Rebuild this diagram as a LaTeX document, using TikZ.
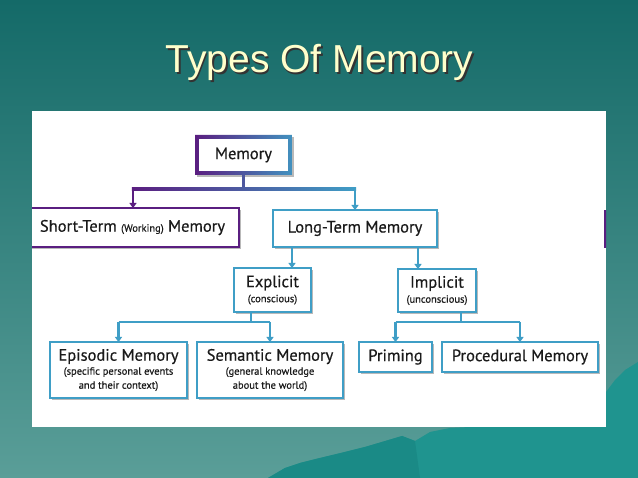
\documentclass[tikz,border=0pt]{standalone}
\usepackage{fontspec}
\setmainfont{Liberation Sans}
\newfontfamily\df[FakeBold=0.5]{PT Sans}
\usetikzlibrary{calc,shadows,arrows.meta}
\definecolor{purp}{HTML}{5A1E80}
\definecolor{blu}{HTML}{3F9EC6}
\definecolor{txt}{HTML}{1A1A1A}
\definecolor{bgtop}{HTML}{146A68}
\definecolor{bgbot}{HTML}{5A9E98}
\definecolor{mount}{HTML}{1F948F}
\definecolor{mountd}{HTML}{1A8A86}
\definecolor{titlec}{HTML}{FFFFCC}
\begin{document}
\begin{tikzpicture}[x=1pt,y=-1pt,
  box/.style={draw=blu, line width=2.2pt, fill=white, inner sep=0pt, outer sep=0pt, align=center, text=txt,
    font=\df\fontsize{16.5}{17}\selectfont,
    drop shadow={shadow xshift=1.5pt, shadow yshift=-1.8pt, fill=black!50, opacity=0.55}},
  conn/.style={blu, line width=2.4pt},
  arr/.style={conn, -{Triangle[width=7pt,length=5pt]}}]
\newcommand\subt[1]{{\fontsize{10.5}{11}\selectfont #1}}
\useasboundingbox (0,0) rectangle (638,478);
% background
\shade[top color=bgtop, bottom color=bgbot] (0,0) rectangle (638,478);
\fill[mount] (268,478) -- (285,468) -- (300,463) -- (320,458) -- (345,452) -- (365,447) -- (392,439)
  -- (402,436) -- (415,441) -- (430,432) -- (450,428) -- (606,420) -- (606,392) -- (615,380)
  -- (625,370) -- (638,362) -- (638,478) -- cycle;
\fill[mountd] (268,478) -- (285,468) -- (300,463) -- (320,458) -- (345,452) -- (365,447) -- (392,439)
  -- (402,436) -- (415,441) -- (420,478) -- cycle;
% title with its shadow
\node[anchor=base, font=\fontsize{39}{44}\selectfont] (title) at (319.5,73)
  {\rlap{\kern1.5pt\raisebox{-1.5pt}{\color{black!80}Types Of Memory}}\color{titlec}Types Of Memory};
% panel
\fill[white] (32,111) rectangle (606,427);
\begin{scope}
\clip (32,111) rectangle (606,427);
% memory root
\node[box, draw=none, minimum width=97pt, minimum height=40pt] (mem) at (243.5,155) {Memory};
\shade[left color=purp, right color=blu!90!purp, even odd rule]
  (mem.north west) rectangle (mem.south east)
  ($(mem.north west)+(3.8,3.8)$) rectangle ($(mem.south east)+(-3.8,-3.8)$);
% second level
\node[box, draw=purp, minimum width=213pt, minimum height=39pt] (st) at (132.5,227.5)
  {Short-Term \subt{(Working)} Memory};
\node[box, minimum width=164pt, minimum height=37pt] (lt) at (355,228.5) {Long-Term Memory};
\draw[purp, line width=2.5pt] (605.5,210) -- (605.5,248);
% third level
\node[box, minimum width=77pt, minimum height=44pt] (ex) at (272.5,290)
  {Explicit\\[-2pt]\subt{(conscious)}};
\node[box, minimum width=78pt, minimum height=43pt] (im) at (437,290.5)
  {Implicit\\[-2pt]\subt{(unconscious)}};
% leaves
\node[box, minimum width=137pt, minimum height=56pt] (ep) at (118.5,370)
  {Episodic Memory\\[-3pt]\subt{(specific personal events}\\[-3pt]\subt{and their context)}};
\node[box, minimum width=146pt, minimum height=56pt] (se) at (270,370)
  {Semantic Memory\\[-3pt]\subt{(general knowledge}\\[-3pt]\subt{about the world)}};
\node[box, minimum width=73pt, minimum height=30pt] (pr) at (395.5,357) {Priming};
\node[box, minimum width=156pt, minimum height=30pt] (pd) at (520,357) {Procedural Memory};
% connectors: memory
\coordinate (j1) at ($(mem.south)+(0,14)$);
\coordinate (stin) at ($(st.north)+(0.5,0)$);
\draw[conn, purp!55!blu] (mem.south) -- (j1);
\shade[left color=purp, right color=blu] ($(j1 -| stin)+(-1.2,-1.2)$) rectangle ($(j1 -| lt.north)+(1.2,1.2)$);
\draw[arr, purp] (j1 -| stin) -- (stin);
\draw[arr] (j1 -| lt.north) -- (lt.north);
% long-term to explicit / implicit
\coordinate (exin) at ($(ex.north)+(19.5,0)$);
\coordinate (imin) at ($(im.north)+(-19,0)$);
\draw[arr] (lt.south -| exin) -- (exin);
\draw[arr] (lt.south -| imin) -- (imin);
% explicit branch
\coordinate (exout) at ($(ex.south)+(-21.5,0)$);
\coordinate (j2) at ($(exout)+(0,10)$);
\draw[conn] (exout) -- (j2);
\draw[conn] (j2 -| ep.north) -- (j2 -| se.north);
\draw[arr] (j2 -| ep.north) -- (ep.north);
\draw[arr] (j2 -| se.north) -- (se.north);
% implicit branch
\coordinate (imout) at ($(im.south)+(24,0)$);
\coordinate (j3) at ($(imout)+(0,10)$);
\draw[conn] (imout) -- (j3);
\draw[conn] (j3 -| pr.north) -- (j3 -| pd.north);
\draw[arr] (j3 -| pr.north) -- (pr.north);
\draw[arr] (j3 -| pd.north) -- (pd.north);
\end{scope}
\end{tikzpicture}
\end{document}
